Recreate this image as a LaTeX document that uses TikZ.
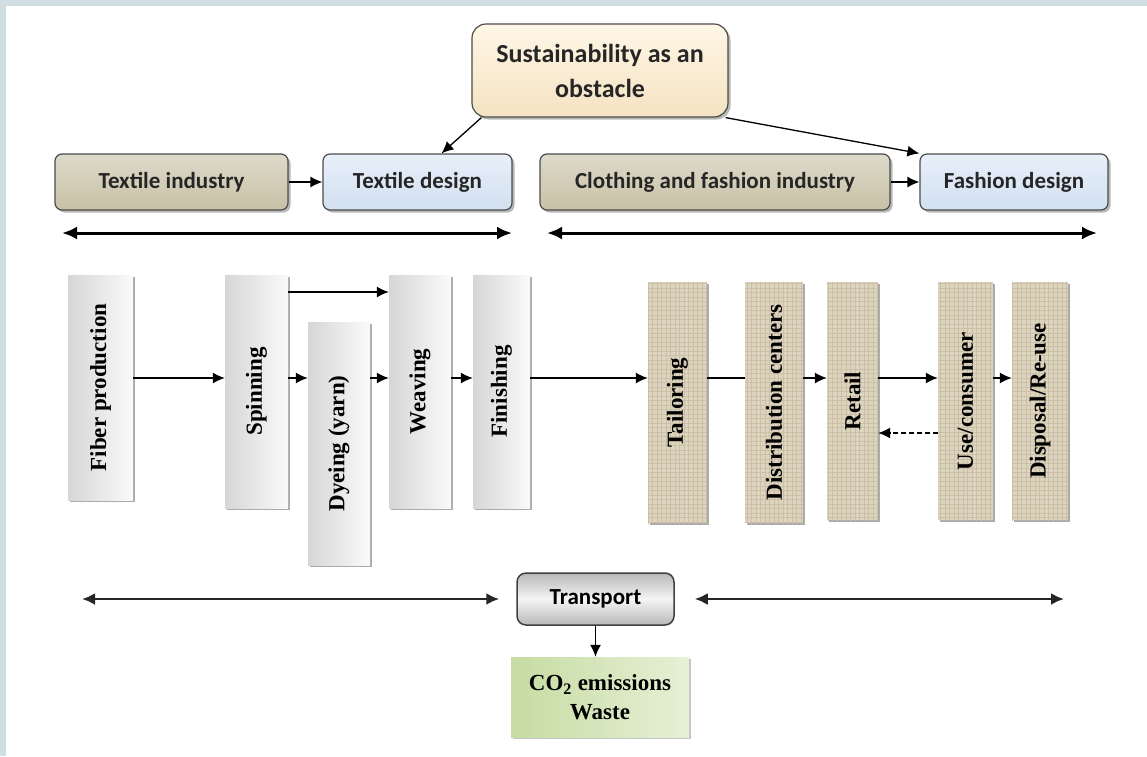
\documentclass[tikz,border=0pt]{standalone}
\usepackage{fontspec}
\setmainfont{Liberation Serif}
\newfontfamily\carlito{Carlito}
\usetikzlibrary{positioning,shadows,patterns.meta,arrows.meta}
\definecolor{panelblue}{HTML}{D0DEE4}
\definecolor{tanlight}{HTML}{DEDACA}
\definecolor{tandark}{HTML}{C8C1A6}
\definecolor{bluelight}{HTML}{E8EFF9}
\definecolor{bluedark}{HTML}{D2E0F1}
\definecolor{creamlight}{HTML}{FEF6E6}
\definecolor{creamdark}{HTML}{F5E3C2}
\definecolor{burlap}{HTML}{DDD4BF}
\definecolor{burlapdark}{HTML}{CBC0A5}
\definecolor{greendark}{HTML}{C6DCA2}
\definecolor{greenlight}{HTML}{E6F0D6}
\tikzstyle{roundbox}=[draw=black!70,line width=1.2pt,rounded corners=7pt,inner sep=0pt,
  minimum height=56pt,text=black!85,font=\carlito\bfseries\fontsize{23}{27}\selectfont,
  drop shadow={shadow xshift=2.5pt,shadow yshift=-2.5pt,fill=black!55}]
\tikzstyle{industry}=[roundbox,top color=tanlight,bottom color=tandark]
\tikzstyle{design}=[roundbox,top color=bluelight,bottom color=bluedark]
\tikzstyle{obstacle}=[roundbox,rounded corners=14pt,top color=creamlight,bottom color=creamdark,
  align=center,font=\carlito\bfseries\fontsize{26}{35}\selectfont]
\tikzstyle{stagebase}=[inner sep=0pt,font=\bfseries\fontsize{23}{27}\selectfont,
  drop shadow={shadow xshift=2pt,shadow yshift=-2pt,fill=black!65}]
\tikzstyle{greystage}=[stagebase,left color=black!16,right color=black!2]
\tikzstyle{clothstage}=[stagebase,fill=burlap,
  postaction={pattern={Hatch[angle=0,distance=4.5pt,line width=.6pt]},pattern color=burlapdark}]
\tikzstyle{transportbox}=[draw=black!75,line width=1.5pt,rounded corners=9pt,inner sep=0pt,
  top color=black!28,bottom color=black!28,middle color=black!4,
  font=\carlito\bfseries\fontsize{23}{27}\selectfont]
\tikzstyle{emission}=[inner sep=0pt,left color=greendark,right color=greenlight,align=center,
  font=\bfseries\fontsize{23}{29}\selectfont,
  drop shadow={shadow xshift=2pt,shadow yshift=-2pt,fill=black!45}]
\tikzstyle{flowline}=[->,line width=1.3pt]
\tikzstyle{span}=[{Latex[length=15pt,width=13pt]}-{Latex[length=15pt,width=13pt]},line width=3pt]
\tikzstyle{spanlow}=[{Latex[length=13pt,width=12pt]}-{Latex[length=13pt,width=12pt]},line width=2.5pt,black!85]
\newcommand{\addStage}[6]{\node[#2,minimum width=#4,minimum height=#5](#1) at (#3){\rotatebox{90}{#6}};}
\newcommand{\addFlow}[3]{\draw[flowline,#3] (#1 |- flow) -- (#2 |- flow);}

\begin{document}
\begin{tikzpicture}[x=1pt,y=-1pt,>={Latex[length=12pt,width=11pt]}]
  \useasboundingbox (0,0) rectangle (1147,756);
  \fill[panelblue] (0,0) rectangle (1147,756);
  \fill[white] (6,6) rectangle (1147,756);

  % design stage
  \node[obstacle,minimum width=256pt,minimum height=93pt] (sust) at (600,70.5) {Sustainability as an\\obstacle};
  \node[industry,minimum width=233pt] (texind) at (171.5,182) {Textile industry};
  \node[design,minimum width=189pt] (texdes) at (417.5,182) {Textile design};
  \node[industry,minimum width=350pt] (clothind) at (715,182) {Clothing and fashion industry};
  \node[design,minimum width=188pt] (fashdes) at (1014,182) {Fashion design};
  \draw[flowline] (texind) -- (texdes);
  \draw[flowline] (clothind) -- (fashdes);
  \draw[flowline] ([xshift=10pt]sust.south west) -- ([xshift=24pt]texdes.north);
  \draw[flowline] ([xshift=-3pt]sust.south east) -- (fashdes.north west);

  \coordinate (texL) at (62,233);
  \coordinate (texR) at (512,233);
  \coordinate (clothL) at (547,233);
  \coordinate (clothR) at (1097,233);
  \draw[span] (texL) -- (texR);
  \draw[span] (clothL) -- (clothR);

  % production chain
  \coordinate (flow) at (0,378);
  \coordinate (bypass) at (0,292);
  \coordinate (back) at (0,433);
  \addStage{fiber}{greystage}{100.5,387.5}{65pt}{225pt}{Fiber production}
  \addStage{spin}{greystage}{256.5,391.5}{63pt}{233pt}{Spinning}
  \addStage{dye}{greystage}{339,443.5}{62pt}{243pt}{Dyeing (yarn)}
  \addStage{weave}{greystage}{420,391.5}{62pt}{233pt}{Weaving}
  \addStage{finish}{greystage}{501.5,391.5}{57pt}{233pt}{Finishing}
  \addStage{tailor}{clothstage}{677.5,402.5}{59pt}{241pt}{Tailoring}
  \addStage{dist}{clothstage}{774,402.5}{58pt}{241pt}{Distribution centers}
  \addStage{retail}{clothstage}{852.5,401}{51pt}{238pt}{Retail}
  \addStage{use}{clothstage}{965.5,401}{55pt}{238pt}{Use/consumer}
  \addStage{disp}{clothstage}{1040,401}{56pt}{238pt}{Disposal/Re-use}

  \addFlow{fiber.east}{spin.west}{}
  \addFlow{spin.east}{dye.west}{}
  \addFlow{dye.east}{weave.west}{}
  \addFlow{weave.east}{finish.west}{}
  \addFlow{finish.east}{tailor.west}{}
  \addFlow{tailor.east}{dist.west}{-}
  \addFlow{dist.east}{retail.west}{}
  \addFlow{retail.east}{use.west}{}
  \addFlow{use.east}{disp.west}{}
  \draw[flowline] (spin.east |- bypass) -- (weave.west |- bypass);
  \draw[flowline,dash pattern=on 5pt off 3pt] (use.west |- back) -- (retail.east |- back);

  % transport
  \node[transportbox,minimum width=157pt,minimum height=52pt] (transport) at (595.5,599) {Transport};
  \node[emission,minimum width=178pt,minimum height=80pt] (co2) at (600,697) {CO\textsubscript{2} emissions\\Waste};
  \coordinate (transL) at (82,599);
  \coordinate (transR) at (1064,599);
  \draw[spanlow,shorten >=17pt] (transL) -- (transport);
  \draw[spanlow,shorten <=20pt] (transport) -- (transR);
  \draw[flowline] (transport.south) -- (transport.south |- co2.north);
\end{tikzpicture}
\end{document}
